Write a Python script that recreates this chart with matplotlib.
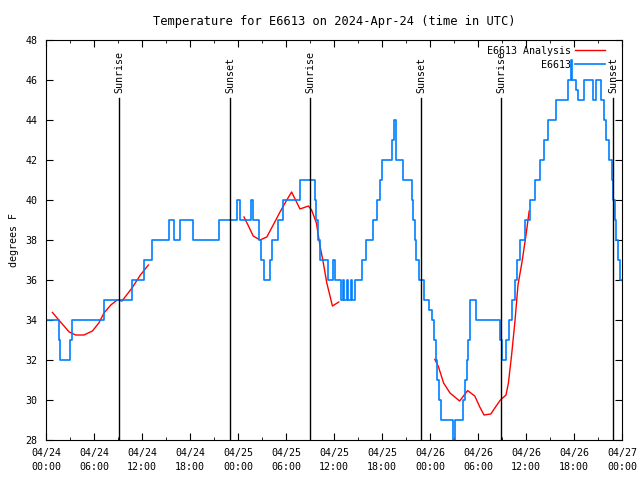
import numpy as np
import matplotlib
matplotlib.use("Agg")
import matplotlib.pyplot as plt
import matplotlib.transforms as transforms

plt.rcParams['font.family'] = 'DejaVu Sans Mono'
plt.rcParams['font.size'] = 7.2

# hours since 2024-04-24 00:00 UTC
blue_t = [0.0, 1.6, 1.8, 3.0, 3.2, 7.25, 10.8, 12.3, 13.2, 15.4, 16.0, 16.7, 18.4,
          21.6, 23.9, 24.3, 25.6, 25.9, 26.6, 26.9, 27.2, 28.0, 28.3, 29.0, 29.6,
          31.8, 33.6, 33.8, 34.0, 34.3, 35.2, 35.9, 36.1, 36.9, 37.1, 37.3, 37.6,
          37.8, 38.1, 38.3, 38.6, 39.5, 40.0, 40.9, 41.4, 41.7, 42.0, 43.2, 43.5,
          43.8, 44.6, 45.7, 45.9, 46.1, 46.3, 46.6, 47.2, 47.9, 48.2, 48.5, 48.7,
          48.9, 49.1, 49.4, 50.9, 51.1, 52.1, 52.4, 52.6, 52.8, 53.0, 53.7, 56.8,
          57.0, 57.5, 57.9, 58.2, 58.6, 58.9, 59.3, 59.9, 60.5, 61.1, 61.8, 62.3,
          62.7, 63.7, 65.3, 65.6, 65.8, 66.2, 66.5, 67.2, 68.4, 68.8, 69.4, 69.7,
          70.0, 70.4, 70.7, 70.9, 71.1, 71.3, 71.5, 71.7, 72.0]
blue_v = [34, 33, 32, 33, 34, 35, 36, 37, 38, 39, 38, 39, 38,
          39, 40, 39, 40, 39, 38, 37, 36, 37, 38, 39, 40,
          41, 40, 39, 38, 37, 36, 37, 36, 35, 36, 35, 36,
          35, 36, 35, 36, 37, 38, 39, 40, 41, 42, 43, 44,
          42, 41, 40, 39, 38, 37, 36, 35, 34.5, 34, 33, 32,
          31, 30, 29, 28, 29, 30, 31, 32, 33, 35, 34, 33,
          32, 33, 34, 35, 36, 37, 38, 39, 40, 41, 42, 43,
          44, 45, 46, 47, 46, 45.5, 45, 46, 45, 46, 45, 44,
          43, 42, 41, 40, 39, 38, 37, 36, 36]

# analysis runs (separate segments)
red1_t = [0.8, 1.6, 2.9, 3.7, 4.75, 5.8, 6.6, 7.25, 8.1, 8.9, 9.5, 10.75, 11.8, 12.8]
red1_v = [34.38, 34.0, 33.4, 33.25, 33.25, 33.45, 33.85, 34.35, 34.75, 35.0, 34.95, 35.6, 36.25, 36.75]
red2_t = [24.75, 25.25, 25.9, 26.75, 27.6, 28.4, 29.25, 30.1, 30.7, 31.75, 32.8, 33.2,
          33.8, 34.25, 34.6, 35.1, 35.5, 35.8, 36.6]
red2_v = [39.15, 38.75, 38.2, 38.0, 38.15, 38.75, 39.4, 40.0, 40.4, 39.55, 39.7, 39.5,
          38.85, 37.7, 37.0, 35.85, 35.2, 34.7, 34.9]
red3_t = [48.6, 49.05, 49.7, 50.5, 51.7, 52.7, 53.6, 54.2, 54.75, 55.6, 56.1, 56.8,
          57.5, 57.8, 58.2, 58.6, 59.0, 59.5, 60.0, 60.4]
red3_v = [32.03, 31.67, 30.85, 30.35, 29.95, 30.47, 30.2, 29.67, 29.25, 29.3, 29.6, 30.0,
          30.25, 30.85, 32.25, 33.85, 35.75, 36.9, 38.25, 39.45]

sun_t = [9.125, 23.0, 33.0, 46.875, 56.875, 70.875]
sun_lbl = ['Sunrise', 'Sunset', 'Sunrise', 'Sunset', 'Sunrise', 'Sunset']

tick_t = list(range(0, 73, 6))
tick_lbl = ['04/24\n00:00', '04/24\n06:00', '04/24\n12:00', '04/24\n18:00',
            '04/25\n00:00', '04/25\n06:00', '04/25\n12:00', '04/25\n18:00',
            '04/26\n00:00', '04/26\n06:00', '04/26\n12:00', '04/26\n18:00',
            '04/27\n00:00']

fig = plt.figure(figsize=(6.4, 4.8), dpi=100)
ax = fig.add_axes([46/640, 40/480, 576/640, 400/480])

red = '#ff0000'
blue = '#0080ff'
ax.plot(red1_t, red1_v, color=red, lw=1, label='E6613 Analysis')
ax.plot(red2_t, red2_v, color=red, lw=1)
ax.plot(red3_t, red3_v, color=red, lw=1)
ax.plot(blue_t, blue_v, color=blue, lw=1.2, drawstyle='steps-post', label='E6613')

trans = transforms.blended_transform_factory(ax.transData, ax.transAxes)
for t, lbl in zip(sun_t, sun_lbl):
    ax.axvline(t, ymin=0, ymax=0.855, color='black', lw=1)
    ax.text(t, 0.868, lbl, rotation=90, ha='center', va='bottom', transform=trans)

ax.set_xlim(0, 72)
ax.set_ylim(28, 48)
ax.set_xticks(tick_t)
ax.set_xticklabels(tick_lbl, linespacing=1.5)
ax.set_xticks(range(0, 73, 3), minor=True)
ax.set_yticks(range(28, 49, 2))
ax.tick_params(direction='in', top=True, right=True, which='both', length=5)
ax.tick_params(which='minor', length=2.5)
ax.tick_params(axis='x', pad=6)
ax.tick_params(axis='y', pad=6)
ax.set_ylabel('degrees F', labelpad=5)
ax.set_title('Temperature for E6613 on 2024-Apr-24 (time in UTC)', pad=11)

ax.legend(loc='upper right', markerfirst=False, frameon=False, handlelength=3.0,
          handletextpad=0.4, labelspacing=0.4, borderaxespad=0.0,
          bbox_to_anchor=(0.978, 0.995))

fig.savefig('out.png', dpi=100)
